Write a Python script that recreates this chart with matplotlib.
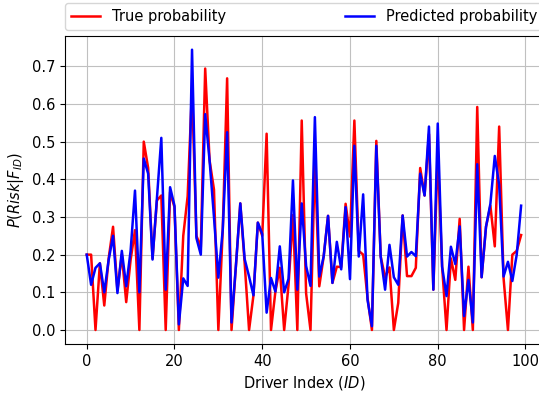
import numpy as np
import matplotlib
matplotlib.use("Agg")
import matplotlib.pyplot as plt

# values, driver index 0..99
true_prob = [
    0.20, 0.20, 0.00, 0.177, 0.065, 0.19, 0.274, 0.105, 0.20, 0.074,
    0.186, 0.265, 0.00, 0.50, 0.43, 0.19, 0.344, 0.357, 0.00, 0.366,
    0.326, 0.00, 0.25, 0.355, 0.64, 0.25, 0.22, 0.694, 0.45, 0.373,
    0.00, 0.266, 0.668, 0.00, 0.17, 0.336, 0.177, 0.00, 0.092, 0.285,
    0.25, 0.521, 0.00, 0.102, 0.165, 0.00, 0.12, 0.305, 0.00, 0.556,
    0.097, 0.00, 0.45, 0.116, 0.195, 0.303, 0.125, 0.168, 0.167, 0.335,
    0.248, 0.556, 0.21, 0.20, 0.085, 0.00, 0.502, 0.195, 0.14, 0.166,
    0.00, 0.072, 0.304, 0.143, 0.143, 0.165, 0.43, 0.357, 0.52, 0.107,
    0.47, 0.168, 0.00, 0.19, 0.133, 0.295, 0.00, 0.168, 0.00, 0.592,
    0.14, 0.274, 0.33, 0.222, 0.54, 0.138, 0.00, 0.20, 0.21, 0.252,
]
pred_prob = [
    0.20, 0.12, 0.165, 0.177, 0.10, 0.186, 0.25, 0.098, 0.21, 0.116,
    0.21, 0.37, 0.10, 0.455, 0.415, 0.187, 0.35, 0.51, 0.107, 0.379,
    0.33, 0.015, 0.137, 0.117, 0.744, 0.244, 0.20, 0.573, 0.45, 0.30,
    0.139, 0.266, 0.525, 0.02, 0.17, 0.336, 0.188, 0.142, 0.092, 0.285,
    0.255, 0.046, 0.138, 0.102, 0.222, 0.10, 0.136, 0.397, 0.107, 0.336,
    0.17, 0.117, 0.565, 0.142, 0.195, 0.303, 0.125, 0.234, 0.161, 0.326,
    0.135, 0.489, 0.195, 0.36, 0.08, 0.01, 0.489, 0.195, 0.107, 0.226,
    0.14, 0.12, 0.304, 0.195, 0.207, 0.196, 0.415, 0.357, 0.54, 0.107,
    0.548, 0.168, 0.09, 0.221, 0.175, 0.275, 0.037, 0.133, 0.02, 0.44,
    0.14, 0.274, 0.335, 0.462, 0.385, 0.142, 0.181, 0.13, 0.20, 0.33,
]
driver_id = np.arange(len(true_prob))

plt.rcParams['font.size'] = 10.5

fig = plt.figure(figsize=(5.39, 3.94), dpi=100)
ax = fig.add_axes([0.1206, 0.1269, 0.8865, 0.7825])
ax.plot(driver_id, true_prob, 'r-', linewidth=1.8, label='True probability')
ax.plot(driver_id, pred_prob, 'b-', linewidth=1.8, label='Predicted probability')
ax.set_xlabel('Driver Index ($ID$)')
ax.set_ylabel('$P(Risk|F_{ID})$')
ax.set_yticks(np.arange(0, 0.71, 0.1))
ax.grid(True, color='#c0c0c0')
ax.legend(bbox_to_anchor=(0., 1.02, 1., .102), loc='lower left',
          ncol=2, mode='expand', borderaxespad=0.)
fig.savefig('out.png', dpi=100)
